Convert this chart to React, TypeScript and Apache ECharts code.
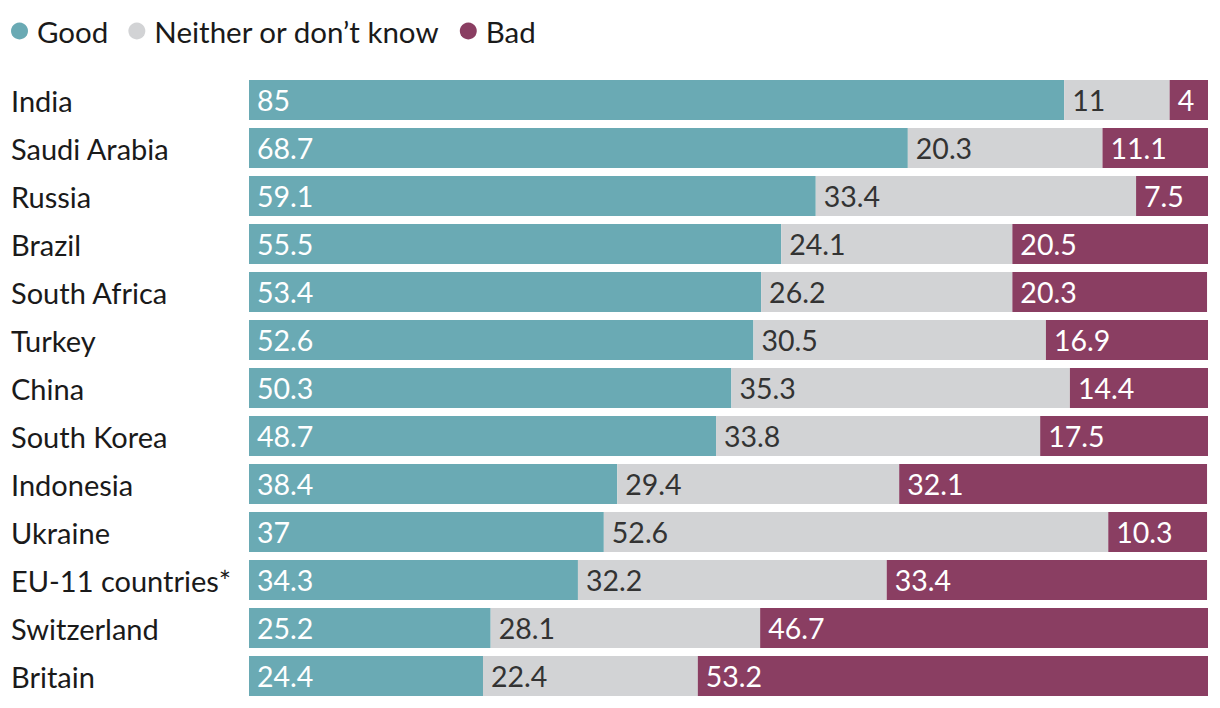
import React, { useEffect, useRef } from "react";
import * as echarts from "echarts";

const countries = [
  "India",
  "Saudi Arabia",
  "Russia",
  "Brazil",
  "South Africa",
  "Turkey",
  "China",
  "South Korea",
  "Indonesia",
  "Ukraine",
  "EU-11 countries*",
  "Switzerland",
  "Britain",
];
const good = [85, 68.7, 59.1, 55.5, 53.4, 52.6, 50.3, 48.7, 38.4, 37, 34.3, 25.2, 24.4];
const neither = [11, 20.3, 33.4, 24.1, 26.2, 30.5, 35.3, 33.8, 29.4, 52.6, 32.2, 28.1, 22.4];
const bad = [4, 11.1, 7.5, 20.5, 20.3, 16.9, 14.4, 17.5, 32.1, 10.3, 33.4, 46.7, 53.2];

const FONT = "Lato";
const C_GOOD = "#6aaab4";
const C_NEITHER = "#d2d3d5";
const C_BAD = "#8a3e62";

export default function App() {
  const ref = useRef<HTMLDivElement>(null);
  useEffect(() => {
    if (!ref.current) return;
    const chart = echarts.init(ref.current, null, { renderer: "svg" });
    const mk = (name: string, data: number[], color: string, labelColor: string) => ({
      name,
      type: "bar",
      stack: "total",
      data,
      barWidth: 40,
      itemStyle: { color },
      label: {
        show: true,
        position: "insideLeft",
        distance: 8,
        color: labelColor,
        fontFamily: FONT,
        fontSize: 28.5,
        formatter: (p: any) => String(p.value),
      },
      emphasis: { disabled: true },
    });
    chart.setOption({
      animation: false,
      textStyle: { fontFamily: FONT },
      legend: {
        left: 3,
        top: 8,
        padding: 0,
        icon: "circle",
        itemWidth: 17,
        itemHeight: 17,
        itemGap: 20,
        textStyle: { fontFamily: FONT, fontSize: 29.5, color: "#1a1a1a", padding: [0, 0, 0, 4] },
        data: ["Good", "Neither or don\u2019t know", "Bad"],
      },
      grid: { left: 241, right: 4, top: 68, bottom: 0, containLabel: false },
      xAxis: { type: "value", min: 0, max: 100, show: false },
      yAxis: {
        type: "category",
        data: countries,
        inverse: true,
        axisLine: { show: false },
        axisTick: { show: false },
        axisLabel: {
          align: "left",
          margin: 238,
          fontFamily: FONT,
          fontSize: 29,
          color: "#1a1a1a",
        },
      },
      series: [
        mk("Good", good, C_GOOD, "#ffffff"),
        mk("Neither or don\u2019t know", neither, C_NEITHER, "#333333"),
        mk("Bad", bad, C_BAD, "#ffffff"),
      ],
    });
    return () => chart.dispose();
  }, []);
  return <div ref={ref} style={{ width: 1204, height: 692 }} />;
}
